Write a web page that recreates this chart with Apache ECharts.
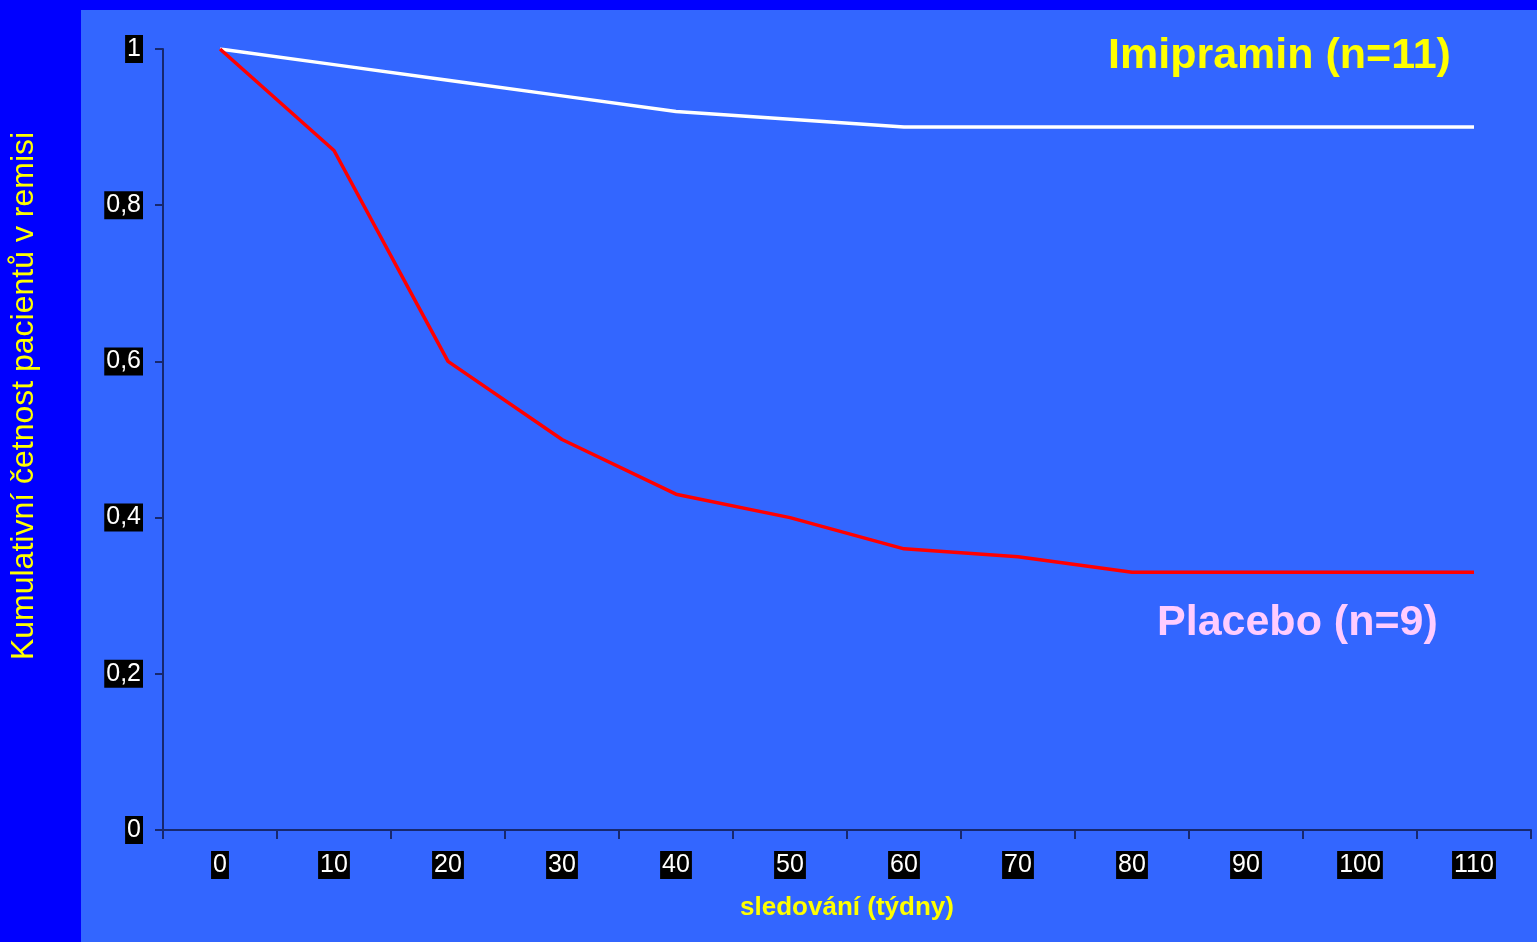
<!DOCTYPE html>
<html>
<head>
<meta charset="utf-8">
<script src="https://cdn.jsdelivr.net/npm/echarts@6/dist/echarts.min.js"></script>
<style>
  html, body { margin: 0; padding: 0; background: #0000ff; }
  #chart { width: 1537px; height: 942px; }
</style>
</head>
<body>
<div id="chart"></div>
<script>
// Follow-up weeks (category axis)
const weeks = ['0', '10', '20', '30', '40', '50', '60', '70', '80', '90', '100', '110'];
// Cumulative proportion of patients in remission
const imipramin = [1, 0.98, 0.96, 0.94, 0.92, 0.91, 0.90, 0.90, 0.90, 0.90, 0.90, 0.90];
const placebo   = [1, 0.87, 0.60, 0.50, 0.43, 0.40, 0.36, 0.35, 0.33, 0.33, 0.33, 0.33];
const yTicks = [0, 0.2, 0.4, 0.6, 0.8, 1];

const axisColor = '#17286e';
const labelBox = {
  color: '#ffffff',
  backgroundColor: '#000000',
  fontFamily: 'Liberation Sans, Arial, sans-serif',
  fontSize: 25,
  lineHeight: 26,
  padding: [1, 2, 1, 2]
};

const chart = echarts.init(document.getElementById('chart'), null, { renderer: 'canvas' });
chart.setOption({
  backgroundColor: '#0000ff',
  animation: false,
  graphic: [
    {
      type: 'rect',
      shape: { x: 81, y: 10, width: 1456, height: 932 },
      style: { fill: '#3366ff' },
      z: -10,
      silent: true
    },
    {
      type: 'text',
      x: 1108, y: 56,
      style: {
        text: 'Imipramin (n=11)',
        fill: '#ffff00',
        font: 'bold 43px "Liberation Sans", Arial, sans-serif',
        textAlign: 'left',
        textVerticalAlign: 'middle'
      }
    },
    {
      type: 'text',
      x: 1157, y: 623,
      style: {
        text: 'Placebo (n=9)',
        fill: '#ffccff',
        font: 'bold 43px "Liberation Sans", Arial, sans-serif',
        textAlign: 'left',
        textVerticalAlign: 'middle'
      }
    },
    {
      type: 'text',
      x: 847, y: 908,
      style: {
        text: 'sledování (týdny)',
        fill: '#ffff00',
        font: 'bold 26px "Liberation Sans", Arial, sans-serif',
        textAlign: 'center',
        textVerticalAlign: 'middle'
      }
    },
    {
      type: 'text',
      x: 24, y: 396,
      rotation: Math.PI / 2,
      style: {
        text: 'Kumulativní četnost pacientů v remisi',
        fill: '#ffff00',
        font: '32px "Liberation Sans", Arial, sans-serif',
        textAlign: 'center',
        textVerticalAlign: 'middle'
      }
    }
  ],
  grid: { left: 163, top: 49, right: 6, bottom: 112, containLabel: false },
  xAxis: {
    type: 'category',
    data: weeks,
    boundaryGap: true,
    axisLine: { show: true, lineStyle: { color: axisColor, width: 2 } },
    axisTick: { show: true, length: 9, alignWithLabel: false, lineStyle: { color: axisColor, width: 2 } },
    axisLabel: Object.assign({ margin: 21 }, labelBox),
    splitLine: { show: false }
  },
  yAxis: {
    type: 'value',
    min: 0,
    max: 1,
    interval: 0.2,
    axisLine: { show: true, onZero: false, lineStyle: { color: axisColor, width: 2 } },
    axisTick: { show: true, length: 8, lineStyle: { color: axisColor, width: 2 } },
    axisLabel: Object.assign({
      margin: 20,
      formatter: v => {
        const t = yTicks.find(x => Math.abs(x - v) < 1e-9);
        return t === undefined ? '' : String(Math.round(t * 10) / 10).replace('.', ',');
      }
    }, labelBox),
    splitLine: { show: false }
  },
  series: [
    {
      name: 'Imipramin',
      type: 'line',
      data: imipramin,
      showSymbol: false,
      lineStyle: { color: '#ffffff', width: 3.5 },
      z: 3
    },
    {
      name: 'Placebo',
      type: 'line',
      data: placebo,
      showSymbol: false,
      lineStyle: { color: '#ff0000', width: 3.5 },
      z: 4
    }
  ]
});
</script>
</body>
</html>
